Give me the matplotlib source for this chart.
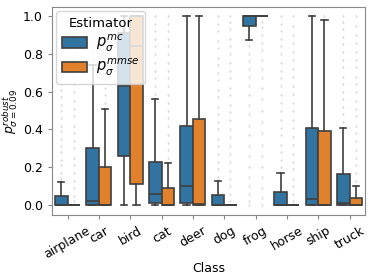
import matplotlib.pyplot as plt
import numpy as np

classes = ["airplane", "car", "bird", "cat", "deer", "dog", "frog", "horse", "ship", "truck"]

# p^mc  (blue)
mc_q1 = [0.0, 0.0, 0.26, 0.01, 0.01, 0.0, 0.947, 0.0, 0.0, 0.0]
mc_med = [0.0, 0.02, 0.63, 0.06, 0.10, 0.0, 1.0, 0.0, 0.03, 0.01]
mc_q3 = [0.05, 0.30, 0.91, 0.23, 0.42, 0.053, 1.0, 0.067, 0.41, 0.165]
mc_lo = [0.0, 0.0, 0.0, 0.0, 0.0, 0.0, 0.873, 0.0, 0.0, 0.0]
mc_hi = [0.12, 0.74, 1.0, 0.56, 1.0, 0.13, 1.0, 0.17, 1.0, 0.41]
mc_fliers = [
    [0.14, 0.17, 0.21, 0.24, 0.28, 0.31, 0.35, 0.39, 0.42, 0.46, 0.5, 0.53, 0.57, 0.61, 0.64, 0.68, 0.72, 0.76, 0.8, 0.83, 0.87, 0.91, 0.95, 1.0],
    [0.77, 0.81, 0.86, 0.9, 0.95, 1.0],
    [],
    [0.59, 0.63, 0.67, 0.71, 0.75, 0.8, 0.84, 0.88, 0.92, 0.96, 1.0],
    [],
    [0.15, 0.19, 0.23, 0.27, 0.31, 0.35, 0.4, 0.44, 0.48, 0.52, 0.57, 0.61, 0.66, 0.7, 0.74, 0.78, 0.83, 0.87, 0.92, 0.96, 1.0],
    [0.0, 0.02, 0.06, 0.1, 0.15, 0.2, 0.26, 0.31, 0.37, 0.42, 0.48, 0.53, 0.58, 0.63, 0.68, 0.72, 0.76, 0.8, 0.84],
    [0.2, 0.24, 0.28, 0.32, 0.37, 0.41, 0.45, 0.5, 0.54, 0.58, 0.63, 0.67, 0.71, 0.75, 0.8, 0.84, 0.88, 0.92, 0.96, 1.0],
    [],
    [0.44, 0.48, 0.52, 0.56, 0.6, 0.64, 0.68, 0.73, 0.77, 0.81, 0.85, 0.89, 0.93, 0.97, 1.0],
]

# p^mmse  (orange)
mmse_q1 = [0.0, 0.0, 0.11, 0.0, 0.0, 0.0, 1.0, 0.0, 0.0, 0.0]
mmse_med = [0.0, 0.0, 0.84, 0.0, 0.005, 0.0, 1.0, 0.0, 0.0, 0.0]
mmse_q3 = [0.0, 0.20, 1.0, 0.09, 0.455, 0.0, 1.0, 0.0, 0.39, 0.04]
mmse_lo = [0.0, 0.0, 0.0, 0.0, 0.0, 0.0, 1.0, 0.0, 0.0, 0.0]
mmse_hi = [0.0, 0.51, 1.0, 0.225, 1.0, 0.0, 1.0, 0.0, 0.98, 0.10]
mmse_fliers = [
    [0.02, 0.05, 0.09, 0.13, 0.17, 0.21, 0.25, 0.3, 0.34, 0.38, 0.42, 0.47, 0.51, 0.55, 0.6, 0.64, 0.68, 0.72, 0.77, 0.81, 0.85, 0.9, 0.94, 1.0],
    [0.54, 0.58, 0.62, 0.66, 0.7, 0.74, 0.79, 0.83, 0.87, 0.91, 0.95, 1.0],
    [],
    [0.25, 0.29, 0.33, 0.37, 0.42, 0.46, 0.5, 0.54, 0.58, 0.63, 0.67, 0.71, 0.75, 0.8, 0.84, 0.88, 0.92, 0.96, 1.0],
    [],
    [0.02, 0.06, 0.1, 0.14, 0.18, 0.23, 0.27, 0.31, 0.36, 0.4, 0.45, 0.49, 0.53, 0.58, 0.62, 0.67, 0.71, 0.75, 0.8, 0.84, 0.88, 0.93, 0.97, 1.0],
    [0.0, 0.04, 0.09, 0.15, 0.2, 0.26, 0.32, 0.38, 0.44, 0.5, 0.56, 0.62, 0.67, 0.72, 0.77, 0.82, 0.86, 0.9, 0.94, 0.97],
    [0.02, 0.06, 0.1, 0.14, 0.19, 0.23, 0.27, 0.32, 0.36, 0.41, 0.45, 0.5, 0.54, 0.59, 0.63, 0.68, 0.72, 0.77, 0.81, 0.86, 0.9, 0.95, 1.0],
    [1.0],
    [0.13, 0.17, 0.21, 0.25, 0.29, 0.34, 0.38, 0.42, 0.47, 0.51, 0.55, 0.6, 0.64, 0.68, 0.73, 0.77, 0.81, 0.86, 0.9, 0.95, 1.0],
]

blue = "#3274a1"
orange = "#e1812c"
edge = "#3f3f3f"


def make_stats(q1, med, q3, lo, hi, fl):
    return [dict(q1=a, med=b, q3=c, whislo=d, whishi=e, fliers=f)
            for a, b, c, d, e, f in zip(q1, med, q3, lo, hi, fl)]


fig = plt.figure(figsize=(3.73, 2.79), dpi=100)
ax = fig.add_axes([0.139, 0.229, 0.84, 0.746])

x = np.arange(len(classes))
common = dict(widths=0.4, patch_artist=True, capwidths=0.2,
              medianprops=dict(color=edge, lw=1.2),
              whiskerprops=dict(color=edge, lw=1.2),
              capprops=dict(color=edge, lw=1.2),
              flierprops=dict(marker="d", markersize=1.3, markerfacecolor="#dcdcdc",
                              markeredgecolor="#dcdcdc", markeredgewidth=0.4))

b1 = ax.bxp(make_stats(mc_q1, mc_med, mc_q3, mc_lo, mc_hi, mc_fliers),
            positions=x - 0.2, boxprops=dict(facecolor=blue, edgecolor=edge, lw=1.2), **common)
b2 = ax.bxp(make_stats(mmse_q1, mmse_med, mmse_q3, mmse_lo, mmse_hi, mmse_fliers),
            positions=x + 0.2, boxprops=dict(facecolor=orange, edgecolor=edge, lw=1.2), **common)

ax.set_xlim(-0.5, len(classes) - 0.5)
ax.set_ylim(-0.053, 1.048)
ax.set_xticks(x)
ax.set_xticklabels(classes, rotation=30, fontsize=9, ha="center")
ax.set_yticks([0.0, 0.2, 0.4, 0.6, 0.8, 1.0])
ax.set_yticklabels(["0.0", "0.2", "0.4", "0.6", "0.8", "1.0"], fontsize=9)
ax.tick_params(length=3, color="#888888")
for s in ax.spines.values():
    s.set_color("#888888")
ax.set_xlabel("Class", fontsize=9, labelpad=1)
ax.set_ylabel(r"$p^{robust}_{\sigma=0.09}$", fontsize=9, labelpad=2)

ax.legend([b1["boxes"][0], b2["boxes"][0]],
          [r"$p_\sigma^{mc}$", r"$p_\sigma^{mmse}$"],
          title="Estimator", loc="upper left", fontsize=10.5, title_fontsize=9.5,
          framealpha=0.8, borderaxespad=0.3, handlelength=1.7, handletextpad=0.6,
          labelspacing=0.2, borderpad=0.4)

fig.savefig("out.png")
